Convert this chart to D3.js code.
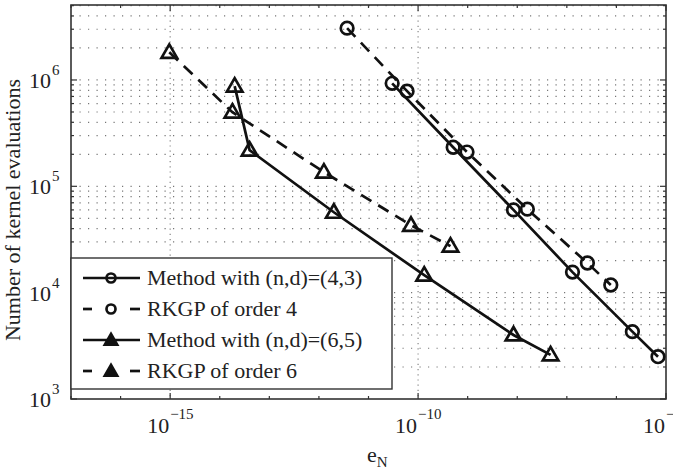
<!DOCTYPE html>
<html>
<head>
<meta charset="utf-8">
<script src="https://cdn.jsdelivr.net/npm/d3@7"></script>
<style>
  body { margin: 0; background: #fff; }
  svg { display: block; }
  text { font-family: "Liberation Serif", "DejaVu Serif", serif; fill: #222; }
</style>
</head>
<body>
<div id="chart"></div>
<script>
// values
const m43X = [3.0e-11, 5.1e-10, 8.4e-9, 1.3e-7, 2.1e-6, 6.9e-6];
const m43Y = [9.3e5, 2.33e5, 6.0e4, 1.56e4, 4.3e3, 2.5e3];
const rk4X = [3.7e-12, 6.0e-11, 9.7e-10, 1.6e-8, 2.6e-7, 7.7e-7];
const rk4Y = [3.07e6, 7.85e5, 2.1e5, 6.1e4, 1.9e4, 1.18e4];
const m65X = [2.0e-14, 4.0e-14, 2.0e-12, 1.33e-10, 8.4e-9, 4.7e-8];
const m65Y = [8.75e5, 2.19e5, 5.7e4, 1.46e4, 4.0e3, 2.6e3];
const rk6X = [9.6e-16, 1.8e-14, 1.26e-12, 7.2e-11, 4.5e-10];
const rk6Y = [1.82e6, 4.98e5, 1.36e5, 4.3e4, 2.74e4];

const xTickExp = [-15, -10, -5];
const yTickExp = [3, 4, 5, 6];
const seriesNames = ["Method with (n,d)=(4,3)", "RKGP of order 4", "Method with (n,d)=(6,5)", "RKGP of order 6"];

const width = 673, height = 468;
const mLeft = 71, mRight = 666, mTop = 5, mBottom = 399;

const svg = d3.select('#chart').append('svg')
    .attr('width', width)
    .attr('height', height);

const x = d3.scaleLog().domain([1e-17, 1e-5]).range([mLeft, mRight]);
const y = d3.scaleLog().domain([1e3, 5.07e6]).range([mBottom, mTop]);

// grid: horizontal dotted at every y tick (major + minor)
let yAll = [];
for (let e = 3; e <= 6; e++) {
    for (let k = 1; k <= 9; k++) {
        let v = k * Math.pow(10, e);
        if (v <= 5.07e6) yAll.push(v);
    }
}

let grid = svg.append('g').attr('class', 'grid');

grid.selectAll('line.h')
    .data(yAll.filter(v => v > 1e3))
    .enter()
    .append('line')
    .attr('class', 'h')
    .attr('x1', mLeft).attr('x2', mRight)
    .attr('y1', v => y(v)).attr('y2', v => y(v))
    .attr('stroke', '#777')
    .attr('stroke-width', 1.2)
    .attr('stroke-dasharray', '1.2,7.3');

grid.selectAll('line.v')
    .data(xTickExp.slice(0, -1))
    .enter()
    .append('line')
    .attr('class', 'v')
    .attr('x1', e => x(Math.pow(10, e))).attr('x2', e => x(Math.pow(10, e)))
    .attr('y1', mTop).attr('y2', mBottom)
    .attr('stroke', '#888')
    .attr('stroke-width', 1.2)
    .attr('stroke-dasharray', '1.2,4');

// axes box
svg.append('rect')
    .attr('x', mLeft).attr('y', mTop)
    .attr('width', mRight - mLeft).attr('height', mBottom - mTop)
    .attr('fill', 'none')
    .attr('stroke', '#333')
    .attr('stroke-width', 1.6);

// tick marks (inward, both sides)
let ticks = svg.append('g').attr('stroke', '#333').attr('stroke-width', 1.2);
yAll.forEach(v => {
    let major = Math.abs(Math.log10(v) - Math.round(Math.log10(v))) < 1e-9;
    let len = major ? 6 : 3;
    ticks.append('line').attr('x1', mLeft).attr('x2', mLeft + len).attr('y1', y(v)).attr('y2', y(v));
    ticks.append('line').attr('x1', mRight).attr('x2', mRight - len).attr('y1', y(v)).attr('y2', y(v));
});
d3.range(-17, -4).forEach(e => {
    let major = xTickExp.includes(e);
    let len = major ? 6 : 3;
    let px = x(Math.pow(10, e));
    ticks.append('line').attr('x1', px).attr('x2', px).attr('y1', mBottom).attr('y2', mBottom - len);
    ticks.append('line').attr('x1', px).attr('x2', px).attr('y1', mTop).attr('y2', mTop + len);
});

// tick labels
xTickExp.forEach(e => {
    let px = x(Math.pow(10, e));
    svg.append('text').attr('x', px - 1).attr('y', 433).attr('text-anchor', 'end')
        .style('font-size', '22px').text('10');
    svg.append('text').attr('x', px).attr('y', 419).style('font-size', '15px').text('\u2212' + (-e));
});
yTickExp.forEach(e => {
    let py = y(Math.pow(10, e));
    svg.append('text').attr('x', 51).attr('y', py + 8).attr('text-anchor', 'end')
        .style('font-size', '22px').text('10');
    svg.append('text').attr('x', 52).attr('y', py - 5).style('font-size', '15px').text(e);
});

// axis titles
svg.append('text')
    .attr('transform', 'translate(20,' + ((mTop + mBottom) / 2 + 8) + ') rotate(-90)')
    .attr('text-anchor', 'middle')
    .style('font-size', '22px')
    .text('Number of kernel evaluations');

let xl = svg.append('text').attr('x', 367).attr('y', 462).style('font-size', '22px');
xl.append('tspan').text('e');
xl.append('tspan').attr('dy', 5).style('font-size', '15px').text('N');

// data
const series = [
    { xs: m43X, ys: m43Y, dash: null, mark: 'circle' },
    { xs: rk4X, ys: rk4Y, dash: '12,8', mark: 'circle' },
    { xs: m65X, ys: m65Y, dash: null, mark: 'triangle' },
    { xs: rk6X, ys: rk6Y, dash: '12,8', mark: 'triangle' }
];

const lw = 2.7;
const line = d3.line().x(d => x(d[0])).y(d => y(d[1]));
const tri = d3.symbol().type(d3.symbolTriangle).size(105);
const triSmall = d3.symbol().type(d3.symbolTriangle).size(65);

let plot = svg.append('g').attr('class', 'data');

series.forEach(s => {
    let pts = s.xs.map((v, i) => [v, s.ys[i]]);
    plot.append('path')
        .attr('d', line(pts))
        .attr('fill', 'none')
        .attr('stroke', '#111')
        .attr('stroke-width', lw)
        .attr('stroke-dasharray', s.dash);
    let m = plot.append('g').selectAll('.m').data(pts).enter();
    if (s.mark === 'circle') {
        m.append('circle')
            .attr('cx', d => x(d[0])).attr('cy', d => y(d[1]))
            .attr('r', 6.3)
            .attr('fill', 'none').attr('stroke', '#111').attr('stroke-width', lw);
    } else {
        m.append('path')
            .attr('d', tri)
            .attr('transform', d => 'translate(' + x(d[0]) + ',' + (y(d[1]) + 1) + ')')
            .attr('fill', 'none').attr('stroke', '#111').attr('stroke-width', lw);
    }
});

// legend
let lg = svg.append('g').attr('class', 'legend');
lg.append('rect')
    .attr('x', mLeft).attr('y', 258)
    .attr('width', 392 - mLeft).attr('height', 131)
    .attr('fill', '#fff')
    .attr('stroke', '#333')
    .attr('stroke-width', 1.4);

seriesNames.forEach((name, i) => {
    let s = series[i];
    let ry = 278 + i * 31;
    if (s.dash) {
        lg.append('line').attr('x1', 83).attr('x2', 92).attr('y1', ry).attr('y2', ry)
            .attr('stroke', '#111').attr('stroke-width', lw);
        lg.append('line').attr('x1', 130).attr('x2', 140).attr('y1', ry).attr('y2', ry)
            .attr('stroke', '#111').attr('stroke-width', lw);
    } else {
        lg.append('line').attr('x1', 83).attr('x2', 140).attr('y1', ry).attr('y2', ry)
            .attr('stroke', '#111').attr('stroke-width', lw);
    }
    if (s.mark === 'circle') {
        lg.append('circle').attr('cx', 111).attr('cy', ry).attr('r', 4.5)
            .attr('fill', 'none').attr('stroke', '#111').attr('stroke-width', lw);
    } else {
        lg.append('path').attr('d', triSmall)
            .attr('transform', 'translate(111,' + (ry + 1) + ')')
            .attr('fill', '#111').attr('stroke', '#111').attr('stroke-width', lw);
    }
    lg.append('text').attr('x', 147).attr('y', ry + 7)
        .style('font-size', '22px').text(name);
});
</script>
</body>
</html>
